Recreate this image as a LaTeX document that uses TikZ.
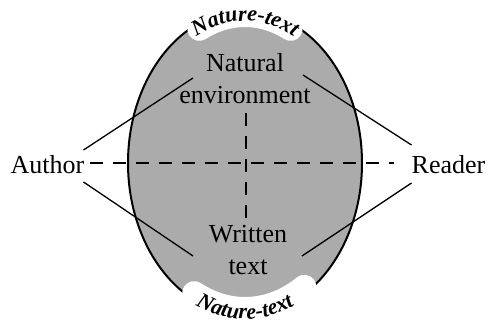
\documentclass[tikz,border=0pt]{standalone}
\usepackage{fontspec}
\setmainfont{Liberation Serif}
\usetikzlibrary{calc,decorations.text}
\definecolor{ovalgray}{RGB}{171,171,171}
\tikzset{
  lbl/.style={inner sep=0pt, font=\rmfamily\fontsize{26}{32}\selectfont},
  conn/.style={line width=1.3pt, black},
  dashconn/.style={line width=1.3pt, black, dash pattern=on 13pt off 10pt},
  band/.style={white, line width=24pt, line cap=round},
  curvetext/.style={decorate, decoration={text along path, text align=center,
     text={|\rmfamily\bfseries\itshape\fontsize{22}{22}\selectfont|Nature-text}}}
}
\begin{document}
\begin{tikzpicture}[x=1pt,y=1pt]
\useasboundingbox (0,0) rectangle (488,323);
% oval
\filldraw[fill=ovalgray, draw=black, line width=2pt] (245,160) ellipse[x radius=117, y radius=152];
% white bands behind the curved labels
\draw[band] ({245+108*cos(115)},{160+148*sin(115)}) arc[start angle=115, end angle=65, x radius=108, y radius=148];
\draw[band] ({245+112*cos(243)},{160+146*sin(243)}) arc[start angle=243, end angle=302, x radius=112, y radius=146];
% curved labels
\path[curvetext] ({245+107*cos(140)},{160+142*sin(140)}) arc[start angle=140, end angle=40, x radius=107, y radius=142];
\path[curvetext] ({245+121*cos(220)},{160+156*sin(220)}) arc[start angle=220, end angle=320, x radius=121, y radius=156];
% nodes
\node[lbl, anchor=base] (author) at (47.5,149) {Author};
\node[lbl, anchor=base] (reader) at (448.5,149) {Reader};
\node[lbl, align=center] (natenv) at (245,244) {Natural\\environment};
\node[lbl, align=center] (written) at (248,73) {Written\\text};
% connectors
\draw[conn] ([shift={(-1,24)}]author.base east) -- ([shift={(-52,1)}]natenv.center);
\draw[conn] ([shift={(-1,-8)}]author.base east) -- ([shift={(-55,-6)}]written.center);
\draw[conn] ([shift={(58,4)}]natenv.center) -- ([shift={(0,29)}]reader.base west);
\draw[conn] ([shift={(54,-6)}]written.center) -- ([shift={(0,-9)}]reader.base west);
\draw[dashconn] ([shift={(5,11)}]author.base east) -- ([shift={(-17,11)}]reader.base west);
\draw[dashconn] ([shift={(1,-34)}]natenv.center) -- ([shift={(-2,32)}]written.center);
\end{tikzpicture}
\end{document}
